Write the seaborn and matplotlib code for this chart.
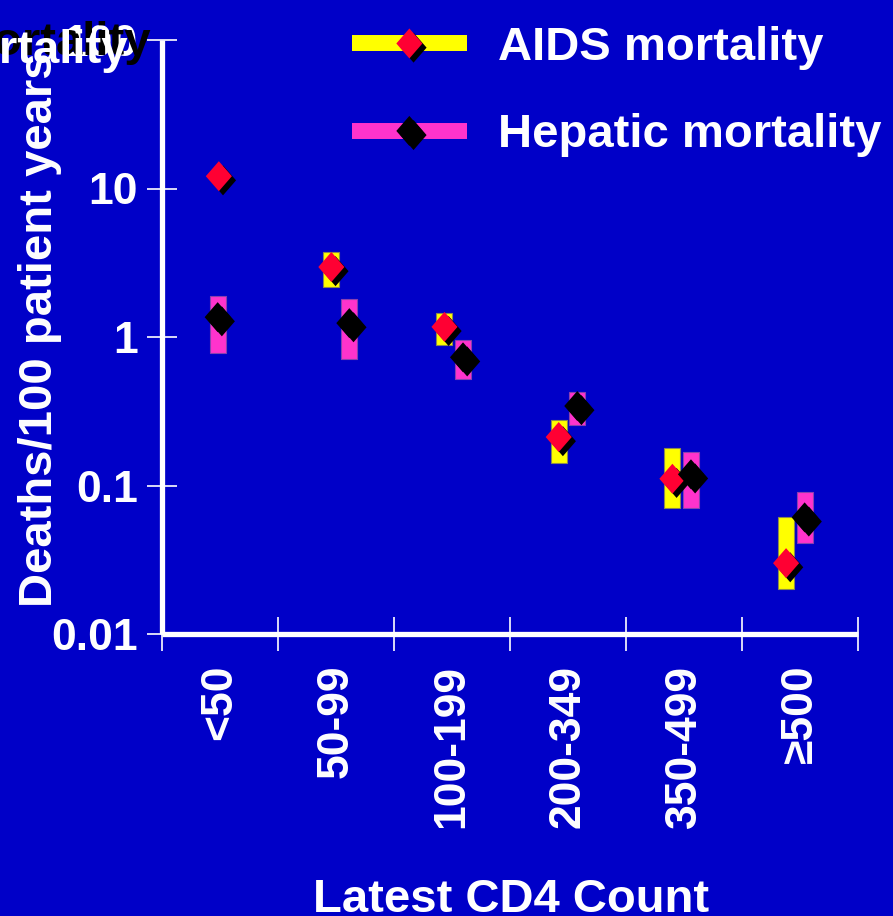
import numpy as np
import pandas as pd
import matplotlib
matplotlib.use("Agg")
import matplotlib.pyplot as plt
import matplotlib.patheffects as pe
from matplotlib.path import Path
from matplotlib.lines import Line2D
from matplotlib.legend_handler import HandlerTuple
import seaborn as sns

# ---------------- data ----------------
categories = ["<50", "50-99", "100-199", "200-349", "350-499", "\u2265500"]
aids_rate = [12.1, 2.96, 1.17, 0.212, 0.111, 0.030]
aids_low = [np.nan, 2.17, 0.88, 0.142, 0.0705, 0.020]
aids_high = [np.nan, 3.73, 1.45, 0.276, 0.179, 0.061]
hep_rate = [1.36, 1.24, 0.73, 0.343, 0.119, 0.061]
hep_low = [0.78, 0.71, 0.52, 0.255, 0.0705, 0.041]
hep_high = [1.89, 1.80, 0.955, 0.427, 0.168, 0.090]
series_names = ["AIDS mortality", "Hepatic mortality"]
y_ticks = [0.01, 0.1, 1, 10, 100]
y_tick_labels = ["0.01", "0.1", "1", "10", "100"]
y_label = "Deaths/100 patient years"
x_label = "Latest CD4 Count"

# ---------------- layout / style ----------------
aids_dx = [-0.01, -0.04, -0.065, -0.08, -0.10, -0.12]
hep_dx = [-0.02, 0.115, 0.095, 0.08, 0.06, 0.04]
BG = "#0000C8"
YELLOW = "#FFFF00"
PINK = "#FF33CC"
RED = "#FF0033"
BAR_W = 0.138
FONT = "Liberation Sans"

sns.set_theme(style="white")
plt.rcParams["font.family"] = [FONT, "DejaVu Sans"]
plt.rcParams["font.weight"] = "bold"

W, H = 893, 916
fig = plt.figure(figsize=(W / 100, H / 100), dpi=100, facecolor=BG)
ax = fig.add_axes([162 / W, 1 - 634 / H, (858 - 162) / W, (634 - 40) / H])
ax.set_facecolor(BG)

x = np.arange(len(categories))
xa = x + np.array(aids_dx)
xh = x + np.array(hep_dx)

# confidence bars
al, ah = np.array(aids_low), np.array(aids_high)
hl, hh = np.array(hep_low), np.array(hep_high)
ma = ~np.isnan(al)
ax.bar(xa[ma], ah[ma] - al[ma], bottom=al[ma], width=BAR_W, color=YELLOW,
       edgecolor="#8A8A50", linewidth=0.8, zorder=2)
ax.bar(xh, hh - hl, bottom=hl, width=BAR_W, color=PINK,
       edgecolor="#8A40B0", linewidth=0.8, zorder=2)

# diamond marker (slightly taller than wide)
diamond = Path([(0, 1), (0.87, 0), (0, -1), (-0.87, 0), (0, 1)],
               [Path.MOVETO, Path.LINETO, Path.LINETO, Path.LINETO, Path.CLOSEPOLY])

df = pd.DataFrame({
    "xpos": np.concatenate([xa, xh]),
    "rate": aids_rate + hep_rate,
    "series": [series_names[0]] * len(categories) + [series_names[1]] * len(categories),
})
sns.scatterplot(data=df, x="xpos", y="rate", hue="series",
                palette={series_names[0]: RED, series_names[1]: "black"},
                marker=diamond, s=21.6 ** 2, edgecolor="none", linewidth=0,
                legend=False, ax=ax, zorder=3)
shadow = [pe.SimplePatchShadow(offset=(3, -3), shadow_rgbFace="black", alpha=1.0), pe.Normal()]
ax.collections[-1].set_path_effects(shadow)

# axes
ax.set_yscale("log")
ax.set_ylim(0.01, 100)
ax.set_xlim(-0.5, len(categories) - 0.5)
ax.set_xlabel("")
ax.set_ylabel("")
ax.grid(False)
for s in ["top", "right"]:
    ax.spines[s].set_visible(False)
for s in ["left", "bottom"]:
    ax.spines[s].set_color("white")
    ax.spines[s].set_linewidth(3.8)
    ax.spines[s].set_capstyle("butt")

ax.yaxis.set_major_locator(matplotlib.ticker.FixedLocator(y_ticks))
ax.yaxis.set_major_formatter(matplotlib.ticker.FixedFormatter(y_tick_labels))
ax.yaxis.set_minor_locator(matplotlib.ticker.NullLocator())
ax.tick_params(axis="y", which="major", direction="inout", length=22, width=1.2,
               color="white", labelcolor="white", labelsize=32, pad=6.5, left=True)
for t in ax.get_yticklabels():
    t.set_fontweight("bold")

ax.set_xticks(x)
ax.set_xticklabels(categories, rotation=90, fontsize=32, fontweight="bold", color="white")
ax.set_xticks(np.arange(len(categories) + 1) - 0.5, minor=True)
ax.tick_params(axis="x", which="major", length=0, pad=22, bottom=True)
ax.tick_params(axis="x", which="minor", direction="inout", length=24, width=1.2,
               color="white", bottom=True)
for t in ax.get_xticklabels():
    t.set_va("top")
    t.set_ha("center")

# labels
fig.text(40 / W, 1 - 330 / H, y_label, rotation=90, ha="center", va="center",
         fontsize=34, fontweight="bold", color="white")
fig.text(511 / W, 1 - 912 / H, x_label, ha="center", va="baseline",
         fontsize=34, fontweight="bold", color="white")

# clipped title remnant "mortality" with black shadow
fig.text(-48 / W, 1 - 55 / H, "mortality", ha="left", va="baseline",
         fontsize=34, fontweight="bold", color="black", zorder=5)
fig.text(-71 / W, 1 - 63 / H, "mortality", ha="left", va="baseline",
         fontsize=34, fontweight="bold", color="white", zorder=6)

# legend
h_aids = (Line2D([], [], color=YELLOW, lw=11.5, solid_capstyle="butt"),
          Line2D([], [], ls="none", marker=diamond, markersize=21.6,
                 markerfacecolor=RED, markeredgecolor="none", path_effects=shadow))
h_hep = (Line2D([], [], color=PINK, lw=11.5, solid_capstyle="butt"),
         Line2D([], [], ls="none", marker=diamond, markersize=21.6,
                markerfacecolor="black", markeredgecolor="none", path_effects=shadow))
leg = fig.legend([h_aids, h_hep], series_names,
                 handler_map={tuple: HandlerTuple(ndivide=1, pad=0)},
                 loc="upper left", bbox_to_anchor=(352 / W, 1 - 26 / H),
                 bbox_transform=fig.transFigure, frameon=False,
                 borderpad=0, borderaxespad=0, handlelength=2.43,
                 handletextpad=0.66, labelspacing=0.92, numpoints=1,
                 prop={"family": FONT, "weight": "bold", "size": 34})
for t in leg.get_texts():
    t.set_color("white")

fig.savefig("out.png", dpi=100, facecolor=BG)
